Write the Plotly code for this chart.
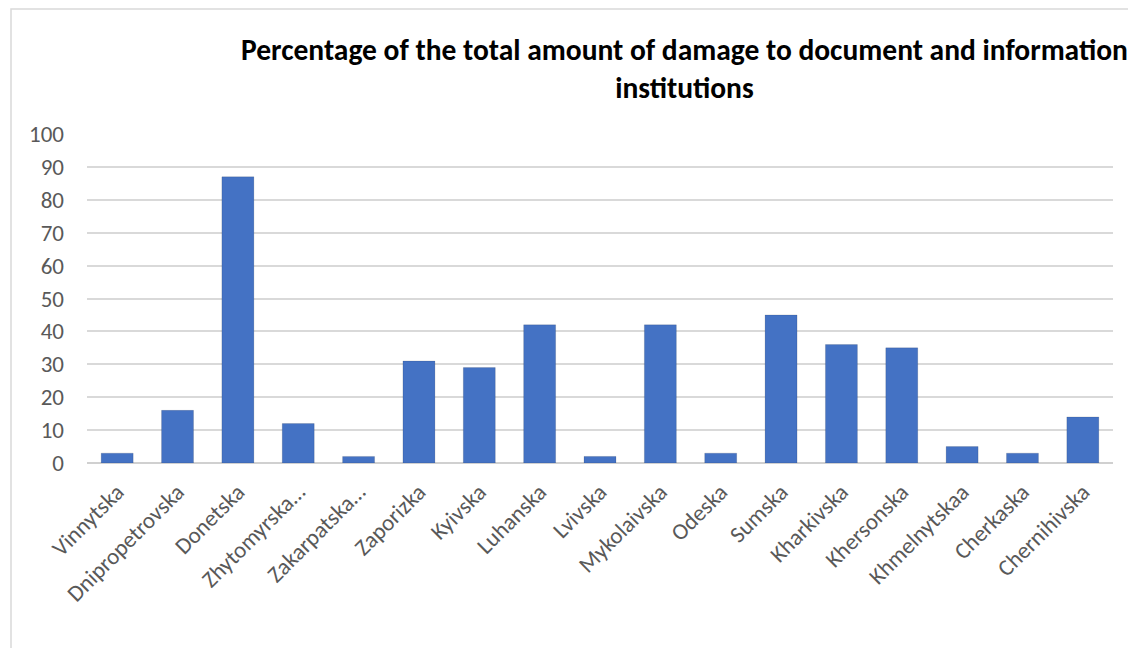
import plotly.graph_objects as go

regions = ["Vinnytska", "Dnipropetrovska", "Donetska", "Zhytomyrska…", "Zakarpatska…",
           "Zaporizka", "Kyivska", "Luhanska", "Lvivska", "Mykolaivska", "Odeska",
           "Sumska", "Kharkivska", "Khersonska", "Khmelnytskaa", "Cherkaska", "Chernihivska"]
damage_pct = [3, 16, 87, 12, 2, 31, 29, 42, 2, 42, 3, 45, 36, 35, 5, 3, 14]
y_ticks = [0, 10, 20, 30, 40, 50, 60, 70, 80, 90, 100]

title_text = "Percentage of the total amount of damage to document and information<br>institutions"

FONT = "Carlito, Lato, 'Open Sans', sans-serif"

fig = go.Figure()
fig.add_trace(go.Bar(
    x=regions, y=damage_pct,
    marker=dict(color="#4472C4", line=dict(color="rgba(0,0,0,0.12)", width=1)),
    showlegend=False,
))

fig.update_layout(
    width=1128, height=648,
    margin=dict(l=87, r=15, t=134, b=185),
    paper_bgcolor="white", plot_bgcolor="white",
    bargap=0.47,
    font=dict(family=FONT, color="#595959", size=23),
    xaxis=dict(tickangle=-45, showgrid=False, showline=False, ticks="",
               ticklabelstandoff=10, tickfont=dict(size=23, color="#595959")),
    yaxis=dict(range=[0, 100], tickvals=y_ticks, showgrid=True, gridcolor="#d9d9d9",
               gridwidth=1.5, zeroline=True, zerolinecolor="#d0d0d0", zerolinewidth=2,
               showline=False, ticks="", ticklabelstandoff=22,
               tickfont=dict(size=23, color="#595959")),
    annotations=[dict(
        text=title_text, xref="paper", yref="paper",
        x=(684 - 87) / 1026, y=(463 - 30) / 329, xanchor="center", yanchor="top",
        showarrow=False, align="center",
        font=dict(family=FONT, size=29.5, color="black", weight="bold"),
    )],
    shapes=[dict(type="rect", xref="paper", yref="paper",
                 x0=(11 - 87) / 1026, x1=1.3, y0=-0.7, y1=(463 - 9) / 329,
                 line=dict(color="#d9d9d9", width=1.5), fillcolor="rgba(0,0,0,0)", layer="below")],
)

fig.write_html("out.html")
